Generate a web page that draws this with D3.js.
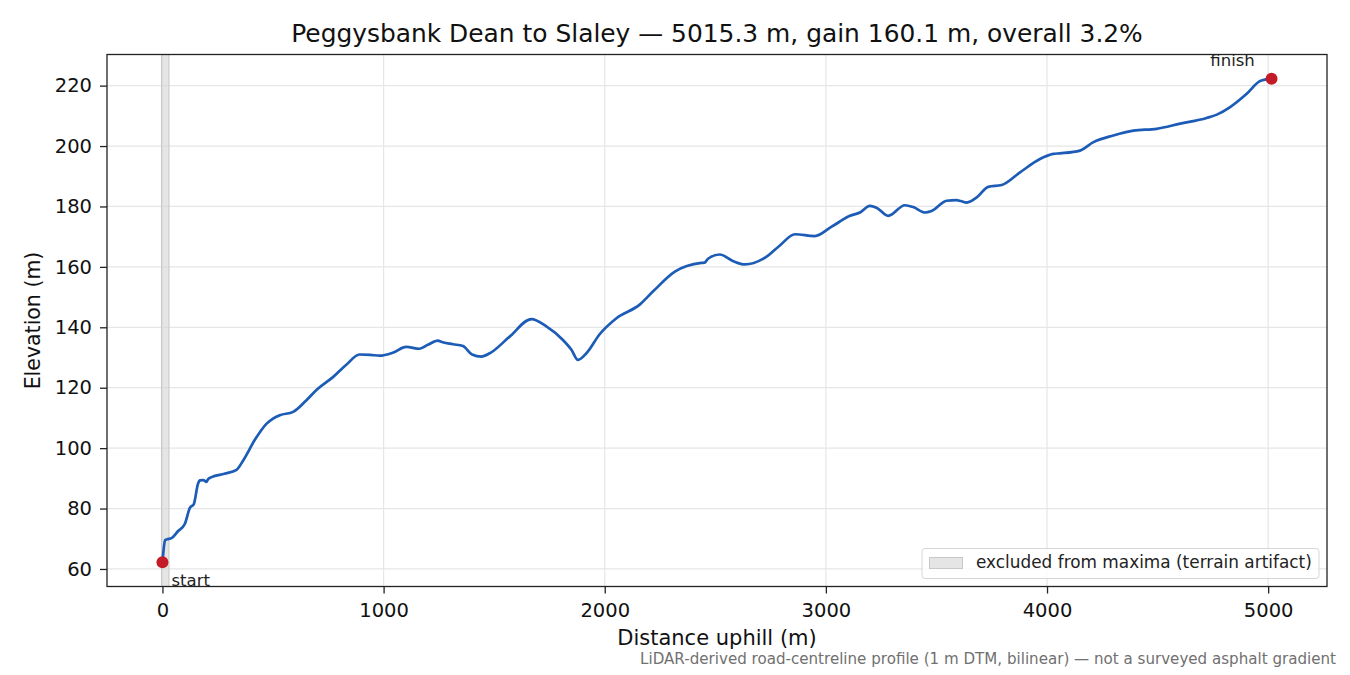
<!DOCTYPE html>
<html>
<head>
<meta charset="utf-8">
<script src="https://cdn.jsdelivr.net/npm/d3@7"></script>
<style>
    body { margin: 0; background: #fff; }
    svg { font-family: "DejaVu Sans", sans-serif; }
</style>
</head>
<body>
<svg id="profile" width="1350" height="675"></svg>
<script>
// distance along road (m) and elevation (m)
const distance = [0, 12, 20, 41, 70, 101, 124, 142, 160, 169, 185, 199, 205, 222, 280, 335, 365, 420, 471, 500,
    531, 591, 650, 700, 771, 830, 891, 940, 982, 1042, 1102, 1163, 1200, 1246, 1260, 1314, 1359, 1400, 1442, 1480,
    1570, 1668, 1736, 1811, 1850, 1879, 1917, 1977, 2053, 2158, 2219, 2317, 2437, 2452, 2467, 2520, 2581, 2633,
    2732, 2792, 2860, 2950, 3026, 3109, 3154, 3199, 3229, 3282, 3357, 3395, 3448, 3478, 3546, 3591, 3610, 3637,
    3682, 3734, 3795, 3878, 3968, 4028, 4059, 4149, 4210, 4300, 4391, 4496, 4602, 4722, 4768, 4828, 4903, 4964,
    5015.3];
const elevation = [62.2, 69.5, 69.8, 70.2, 72.5, 74.9, 80.2, 81.5, 88.0, 89.3, 89.4, 88.8, 89.6, 90.4, 91.5, 92.8, 95.9,
    103.0, 108.1, 109.8, 110.9, 112.0, 115.8, 119.5, 123.5, 127.5, 131.0, 130.9, 130.6, 131.6, 133.5, 132.9, 134.2, 135.6,
    135.2, 134.4, 133.8, 131.0, 130.3, 131.4, 136.9, 142.7, 140.3, 135.8, 132.5, 129.2, 131.4, 137.7, 143.0, 147.5,
    151.9, 158.4, 161.3, 161.4, 162.7, 164.1, 161.9, 160.8, 163.4, 167.1, 170.8, 170.2, 173.3, 176.9, 178.0, 180.2,
    179.6, 176.9, 180.4, 179.8, 178.0, 178.5, 181.9, 182.1, 181.8, 181.3, 183.0, 186.5, 187.1, 191.3, 195.7, 197.4,
    197.6, 198.5, 201.3, 203.5, 205.1, 205.7, 207.4, 209.3, 210.4, 212.9, 217.3, 221.5, 222.3];
const xTicks = [0, 1000, 2000, 3000, 4000, 5000];
const yTicks = [60, 80, 100, 120, 140, 160, 180, 200, 220];
const excludedSpan = [0, 25];

const svg = d3.select("#profile");
const margin = {top: 54.5, right: 23, bottom: 88.5, left: 107};
const width = +svg.attr("width") - margin.left - margin.right;
const height = +svg.attr("height") - margin.top - margin.bottom;
const g = svg.append("g").attr("transform", "translate(" + margin.left + "," + margin.top + ")");

const data = distance.map((d, i) => ({d: d, e: elevation[i]}));

// matplotlib-style 5% padding
const xExt = d3.extent(distance), yExt = d3.extent(elevation);
const xPad = (xExt[1] - xExt[0]) * 0.05, yPad = (yExt[1] - yExt[0]) * 0.05;
const x = d3.scaleLinear().domain([xExt[0] - xPad, xExt[1] + xPad]).range([0, width]);
const y = d3.scaleLinear().domain([yExt[0] - yPad, yExt[1] + yPad]).range([height, 0]);

// grid
g.append("g").selectAll("line").data(xTicks).join("line")
    .attr("x1", d => x(d)).attr("x2", d => x(d)).attr("y1", 0).attr("y2", height)
    .attr("stroke", "#e6e6e6").attr("stroke-width", 1.2);
g.append("g").selectAll("line").data(yTicks).join("line")
    .attr("x1", 0).attr("x2", width).attr("y1", d => y(d)).attr("y2", d => y(d))
    .attr("stroke", "#e6e6e6").attr("stroke-width", 1.2);

// excluded span
g.append("rect")
    .attr("x", x(excludedSpan[0]) - 1).attr("width", x(excludedSpan[1]) - x(excludedSpan[0]) + 2)
    .attr("y", 0).attr("height", height)
    .attr("fill", "#d4d4d4").attr("fill-opacity", 0.6)
    .attr("stroke", "#c8c8c8").attr("stroke-width", 1);

const line = d3.line()
    .x(d => x(d.d))
    .y(d => y(d.e))
    .curve(d3.curveMonotoneX);

g.append("path")
    .datum(data)
    .attr("fill", "none")
    .attr("stroke", "#1c5cb6")
    .attr("stroke-width", 2.7)
    .attr("stroke-linejoin", "round")
    .attr("stroke-linecap", "round")
    .attr("d", line);

const ends = [data[0], data[data.length - 1]];
g.selectAll("circle.end").data(ends).join("circle")
    .attr("class", "end")
    .attr("cx", d => x(d.d)).attr("cy", d => y(d.e)).attr("r", 6)
    .attr("fill", "#c41b28");

g.append("text").attr("x", x(ends[0].d) + 9).attr("y", y(ends[0].e) + 24)
    .attr("font-size", 16.5).attr("fill", "#222").text("start");
g.append("text").attr("x", x(ends[1].d) - 39).attr("y", y(ends[1].e) - 13)
    .attr("text-anchor", "middle")
    .attr("font-size", 16.5).attr("fill", "#222").text("finish");

// axes
const xAxis = g.append("g").attr("transform", "translate(0," + height + ")")
    .call(d3.axisBottom(x).tickValues(xTicks).tickFormat(d3.format("d")).tickSizeOuter(0).tickSize(7).tickPadding(9.5));
const yAxis = g.append("g")
    .call(d3.axisLeft(y).tickValues(yTicks).tickFormat(d3.format("d")).tickSizeOuter(0).tickSize(7).tickPadding(8));
[xAxis, yAxis].forEach(a => {
    a.select(".domain").remove();
    a.selectAll(".tick line").attr("stroke", "#222").attr("stroke-width", 1.3);
    a.selectAll(".tick text").attr("font-size", 19.5).attr("fill", "#111")
        .attr("font-family", "DejaVu Sans, sans-serif");
});

g.append("rect").attr("x", 0).attr("y", 0).attr("width", width).attr("height", height)
    .attr("fill", "none").attr("stroke", "#222").attr("stroke-width", 1.3);

// legend
const leg = g.append("g").attr("transform", "translate(" + (width - 405) + "," + (height - 38) + ")");
leg.append("rect").attr("x", 0).attr("y", 0).attr("width", 397).attr("height", 30).attr("rx", 3)
    .attr("fill", "#fff").attr("fill-opacity", 0.8).attr("stroke", "#d6d6d6");
leg.append("rect").attr("x", 7.5).attr("y", 9).attr("width", 33).attr("height", 11)
    .attr("fill", "#d4d4d4").attr("fill-opacity", 0.6).attr("stroke", "#c8c8c8");
leg.append("text").attr("x", 54).attr("y", 19.5).attr("font-size", 16.9).attr("fill", "#222")
    .text("excluded from maxima (terrain artifact)");

// titles
svg.append("text").attr("x", margin.left + width / 2).attr("y", 41.5).attr("text-anchor", "middle")
    .attr("font-size", 24.9).attr("fill", "#111")
    .text("Peggysbank Dean to Slaley \u2014 5015.3 m, gain 160.1 m, overall 3.2%");
svg.append("text").attr("x", margin.left + width / 2).attr("y", 645).attr("text-anchor", "middle")
    .attr("font-size", 21).attr("fill", "#111").text("Distance uphill (m)");
svg.append("text").attr("transform", "translate(40," + (margin.top + height / 2) + ") rotate(-90)")
    .attr("text-anchor", "middle").attr("font-size", 20.5).attr("fill", "#111").text("Elevation (m)");
svg.append("text").attr("x", 1336).attr("y", 664).attr("text-anchor", "end")
    .attr("font-size", 15.1).attr("fill", "#707070")
    .text("LiDAR-derived road-centreline profile (1 m DTM, bilinear) \u2014 not a surveyed asphalt gradient");
</script>
</body>
</html>
